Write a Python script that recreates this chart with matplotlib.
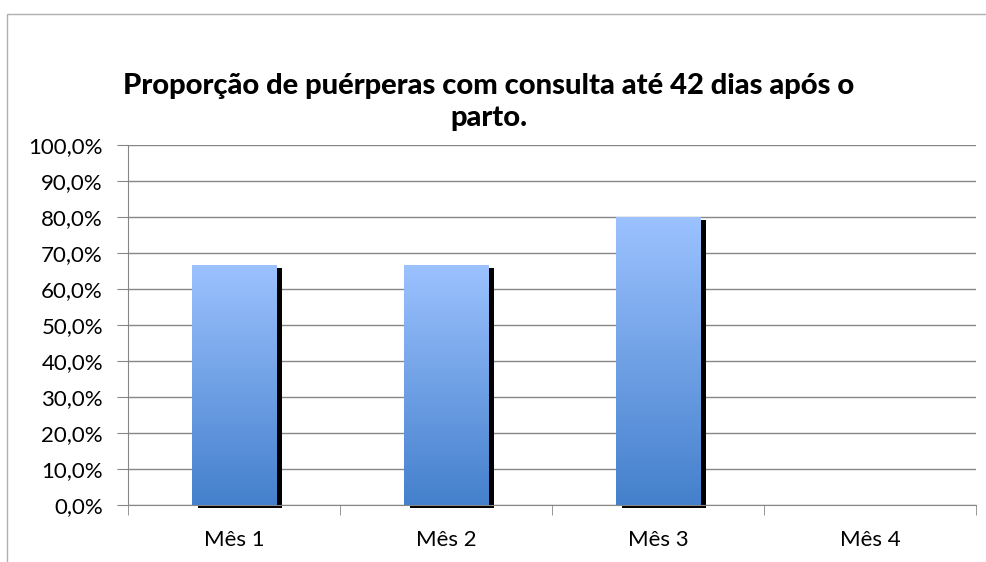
import numpy as np
import matplotlib
matplotlib.use('Agg')
import matplotlib.pyplot as plt
from matplotlib.patches import Rectangle
from matplotlib.transforms import ScaledTranslation
from matplotlib.ticker import FuncFormatter, MultipleLocator

# dados do gráfico
categorias = ['Mês 1', 'Mês 2', 'Mês 3', 'Mês 4']
proporcao = [66.7, 66.7, 80.0, 0.0]
titulo = 'Proporção de puérperas com consulta até 42 dias após o\nparto.'

plt.rcParams['font.family'] = ['Lato', 'DejaVu Sans']
grid_color = '#868686'


def formato_pct(v, pos):
    return f'{v:.1f}%'.replace('.', ',')


def main():
    fig = plt.figure(figsize=(9.87, 5.62), dpi=100)
    fig.patches.append(Rectangle((7 / 987, -0.1), 1.2, 1 - 14 / 562 + 0.1,
                                 transform=fig.transFigure, fill=False,
                                 edgecolor='#b0b0b0', linewidth=1))
    ax = fig.add_axes([128 / 987, 57 / 562, 848 / 987, 360 / 562])

    x = np.arange(len(categorias))
    largura = 0.4

    # sombra preta deslocada
    sombra = ScaledTranslation(6 / 100, -3 / 100, fig.dpi_scale_trans)
    ax.bar(x, proporcao, largura, color='black', zorder=2,
           transform=ax.transData + sombra, clip_on=False)

    # barras com gradiente
    barras = ax.bar(x, proporcao, largura, color='none', zorder=3)
    grad = np.linspace(0, 1, 256).reshape(-1, 1)
    cmap = matplotlib.colors.LinearSegmentedColormap.from_list(
        'azul', ['#4480cc', '#9cc2ff'])
    for b in barras:
        if b.get_height() <= 0:
            continue
        x0 = b.get_x()
        im = ax.imshow(grad, cmap=cmap, origin='lower', aspect='auto',
                       extent=[x0, x0 + b.get_width(), 0, b.get_height()],
                       zorder=3)
        im.set_clip_path(b)

    ax.set_xlim(-0.5, len(categorias) - 0.5)
    ax.set_ylim(0, 100)
    ax.yaxis.set_major_locator(MultipleLocator(10))
    ax.yaxis.set_major_formatter(FuncFormatter(formato_pct))
    ax.grid(axis='y', color=grid_color, linewidth=1, zorder=0)
    ax.set_axisbelow(True)

    ax.set_xticks(x)
    ax.set_xticklabels(categorias)
    ax.set_xticks(np.arange(len(categorias) + 1) - 0.5, minor=True)
    ax.tick_params(axis='x', which='major', length=0, pad=18)
    ax.tick_params(axis='x', which='minor', length=7, color=grid_color)
    ax.tick_params(axis='y', length=8, color=grid_color, pad=10)
    ax.tick_params(labelsize=16)

    for s in ['top', 'right']:
        ax.spines[s].set_visible(False)
    for s in ['left', 'bottom']:
        ax.spines[s].set_color(grid_color)

    fig.text(489 / 987, 1 - 102 / 562, titulo, ha='center', va='center',
             fontsize=21, fontweight='black', linespacing=1.3)

    fig.savefig('out.png', dpi=100)


if __name__ == '__main__':
    main()
